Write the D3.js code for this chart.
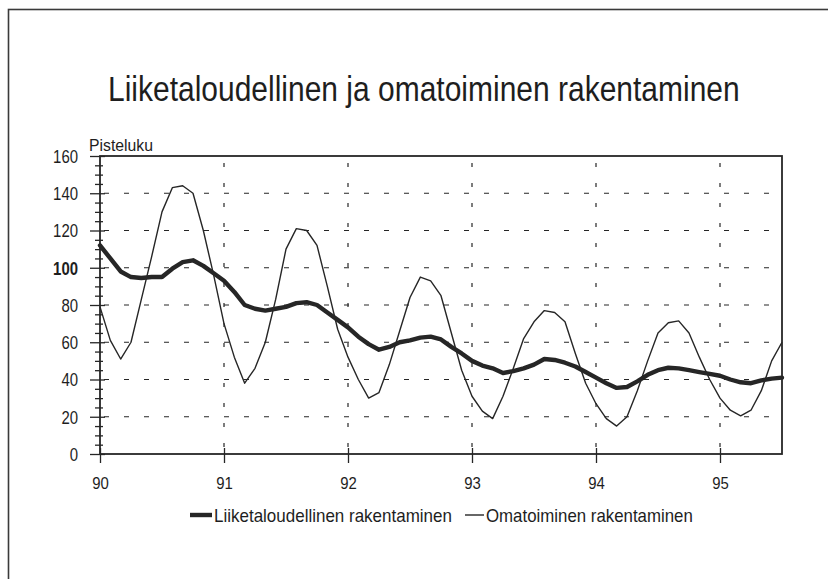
<!DOCTYPE html>
<head>
    <meta charset="utf-8">
    <script src="https://d3js.org/d3.v7.min.js"></script>
    <style>
      body { margin: 0; background: #fff; }
      svg text {
          font-family: "Liberation Sans", Arial, Helvetica, sans-serif;
          fill: #1e1e1e;
      }
      .axis path { display: none; }
      .axis line { stroke: #262626; stroke-width: 1.3; }
      .grid line { stroke: #262626; stroke-width: 1.2; }
    </style>
</head>
<body>
    <div class="chart"></div>

    <script>
      // monthly index, Jan 1990 .. Jul 1995
      var yearLabels = ['90', '91', '92', '93', '94', '95'];
      var yTicks = [0, 20, 40, 60, 80, 100, 120, 140, 160];

      var liiketaloudellinen = [
        112, 105, 98, 95, 94.5, 95, 95, 99.5, 103, 104, 101, 97,
        93, 87, 80, 78, 77, 78, 79, 81, 81.5, 80, 76, 72,
        68, 63, 59, 56, 57.5, 60, 61, 62.5, 63, 61.5, 57.5, 54,
        50, 47.5, 46, 43.5, 44.5, 46, 48, 51, 50.5, 49, 47, 44,
        41, 38, 35.5, 36, 39, 42.5, 45, 46.3, 46, 45, 44, 43,
        42, 40, 38.5, 38, 39.5, 40.5, 41
      ];
      var omatoiminen = [
        79, 61, 51, 60, 83, 106, 130, 143, 144, 140, 120, 96,
        70, 52, 38, 46, 60, 83, 110, 121, 120, 112, 90, 67,
        52, 40, 30, 33, 48, 66, 84, 95, 93, 85, 65, 45,
        31, 23, 19, 31, 46, 62, 71, 77, 76, 71, 54, 38,
        27, 19, 15, 20, 34, 50, 65, 70.5, 71.5, 65, 52, 40,
        30, 23.5, 20.5, 23.5, 34, 50, 60
      ];

      var width = 828, height = 579;
      var margin = {top: 156, right: 46, bottom: 125, left: 100};

      var svg = d3.select('.chart').append('svg')
          .attr('width', width)
          .attr('height', height);

      // squeeze a text horizontally so it looks like a narrow face
      function narrow(sel, x0, y0, w) {
          sel.attr('x', 0).attr('y', 0);
          var natural = sel.node().getComputedTextLength();
          sel.attr('transform', 'translate(' + x0 + ',' + y0 + ') scale(' + (w / natural) + ',1)');
      }

      // outer frame
      svg.append('rect')
          .attr('x', 8.5).attr('y', 9.5)
          .attr('width', width + 20).attr('height', height + 20)
          .attr('fill', 'none')
          .attr('stroke', '#3a3a3a')
          .attr('stroke-width', 1.6);

      var x = d3.scaleLinear()
          .domain([0, liiketaloudellinen.length - 1])
          .range([margin.left, width - margin.right]);
      var y = d3.scaleLinear()
          .domain([0, 160])
          .range([height - margin.bottom, margin.top]);

      var yearTicks = yearLabels.map(function(d, i) { return i * 12; });

      var title = svg.append('text')
          .attr('font-size', 35)
          .text('Liiketaloudellinen ja omatoiminen rakentaminen');
      narrow(title, 108, 101, 632);

      var ylab = svg.append('text')
          .attr('font-size', 16)
          .text('Pisteluku');
      narrow(ylab, 89, 151, 64);

      // grid
      svg.append('g').attr('class', 'grid')
          .selectAll('line')
          .data(yTicks.filter(function(d) { return d > 0 && d < 160; }))
          .enter().append('line')
          .attr('x1', x(0)).attr('x2', x.range()[1])
          .attr('y1', function(d) { return y(d); })
          .attr('y2', function(d) { return y(d); })
          .attr('stroke-dasharray', '5,15')
          .attr('stroke-dashoffset', -4);

      svg.append('g').attr('class', 'grid')
          .selectAll('line')
          .data(yearTicks.slice(1))
          .enter().append('line')
          .attr('x1', function(d) { return x(d); })
          .attr('x2', function(d) { return x(d); })
          .attr('y1', y(160)).attr('y2', y(0))
          .attr('stroke-dasharray', '4,16')
          .attr('stroke-dashoffset', -7);

      // y axis, major and minor ticks crossing the axis
      var yMinor = d3.range(0, 161, 5).filter(function(d) { return d % 20 != 0; });
      svg.append('g')
          .attr('class', 'axis')
          .attr('transform', 'translate(' + margin.left + ',0)')
          .call(d3.axisLeft(y).tickValues(yMinor).tickSize(5).tickFormat(''))
          .selectAll('line').attr('x1', 3);

      var yAx = svg.append('g')
          .attr('class', 'axis')
          .attr('transform', 'translate(' + margin.left + ',0)')
          .call(d3.axisLeft(y).tickValues(yTicks).tickSize(10));
      yAx.selectAll('line').attr('x1', 5);
      yAx.selectAll('text')
          .attr('x', -22)
          .attr('dy', '0.36em')
          .attr('font-size', 18)
          .attr('textLength', function(d) { return String(d).length * 8.3; })
          .attr('lengthAdjust', 'spacingAndGlyphs')
          .attr('font-weight', function(d) { return d == 100 ? 'bold' : 'normal'; })
          .style('fill', '#1e1e1e');

      var xAx = svg.append('g')
          .attr('class', 'axis')
          .attr('transform', 'translate(0,' + y(0) + ')')
          .call(d3.axisBottom(x).tickValues(yearTicks).tickSize(9)
              .tickFormat(function(d, i) { return yearLabels[i]; }));
      xAx.selectAll('line').attr('y1', -6);
      xAx.selectAll('text')
          .attr('y', 35)
          .attr('dy', 0)
          .attr('font-size', 17)
          .attr('textLength', 16.6)
          .attr('lengthAdjust', 'spacingAndGlyphs')
          .style('fill', '#1e1e1e');

      // plot frame
      svg.append('rect')
          .attr('x', x.range()[0]).attr('y', y(160))
          .attr('width', x.range()[1] - x.range()[0])
          .attr('height', y(0) - y(160))
          .attr('fill', 'none')
          .attr('stroke', '#262626')
          .attr('stroke-width', 1.8);

      var line = d3.line()
          .x(function(d, i) { return x(i); })
          .y(function(d) { return y(d); });

      svg.append('path')
          .datum(omatoiminen)
          .attr('d', line)
          .attr('fill', 'none')
          .attr('stroke', '#262626')
          .attr('stroke-width', 1.4)
          .attr('stroke-linejoin', 'round');

      svg.append('path')
          .datum(liiketaloudellinen)
          .attr('d', line)
          .attr('fill', 'none')
          .attr('stroke', '#262626')
          .attr('stroke-width', 4.4)
          .attr('stroke-linejoin', 'round')
          .attr('stroke-linecap', 'round');

      // legend
      var legend = [
        {name: 'Liiketaloudellinen rakentaminen', w: 4.4, x0: 190, x1: 212, len: 238},
        {name: 'Omatoiminen rakentaminen', w: 1.4, x0: 465, x1: 484, len: 207}
      ];
      var lg = svg.append('g').selectAll('g').data(legend).enter().append('g');
      lg.append('line')
          .attr('x1', function(d) { return d.x0; })
          .attr('x2', function(d) { return d.x1; })
          .attr('y1', 515).attr('y2', 515)
          .attr('stroke', '#262626')
          .attr('stroke-width', function(d) { return d.w; });
      lg.append('text')
          .attr('font-size', 19)
          .text(function(d) { return d.name; })
          .each(function(d) { narrow(d3.select(this), d.x1 + 2, 522, d.len); });
    </script>
</body>
